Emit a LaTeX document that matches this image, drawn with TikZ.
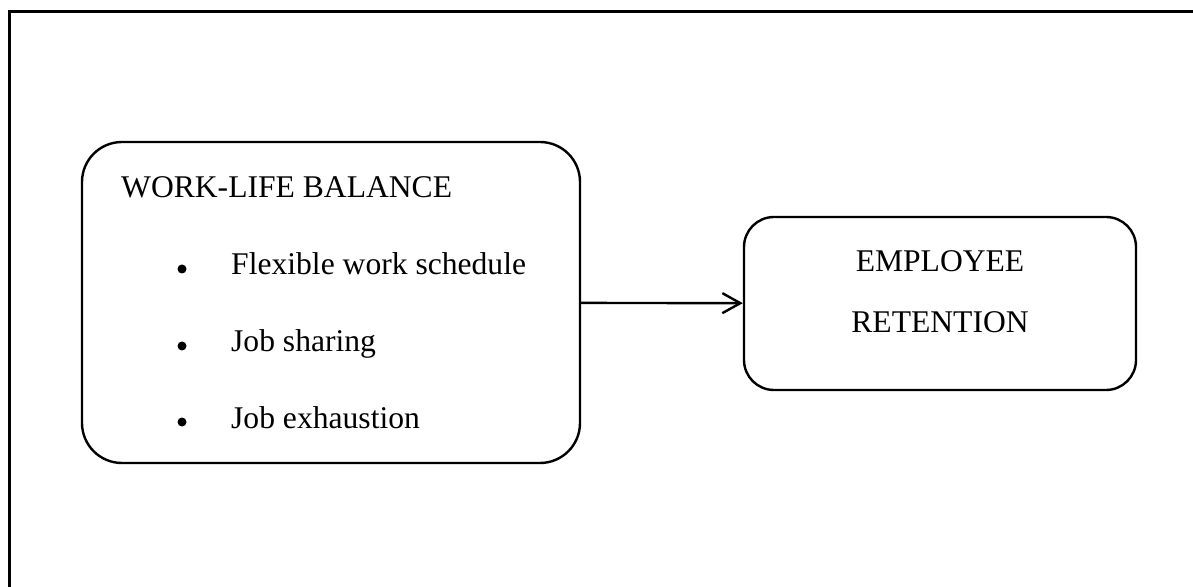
\documentclass[tikz,border=0pt]{standalone}
\usepackage{fontspec}
\setmainfont{Liberation Serif}
\usetikzlibrary{arrows.meta}
\begin{document}
\begin{tikzpicture}[x=0.5pt, y=-0.5pt, line width=1.2pt,
  roundbox/.style={draw, rounded corners=#1, inner sep=0pt},
  txt/.style={anchor=base west, inner sep=0pt, font=\fontsize{15.8}{19}\selectfont},
  dot/.style={circle, fill, inner sep=0pt, minimum size=4.5pt}]
\useasboundingbox (0,0) rectangle (1193,587);
\coordinate (frametl) at (9.5,11.5);
\coordinate (frametr) at (1193,11.5);
\coordinate (framebl) at (9.5,587);
\draw[line width=1.3pt](framebl) -- (frametl) -- (frametr);
\node[roundbox=20pt, minimum width=249pt, minimum height=160.5pt] (wlb) at (331,302.5){};
\node[roundbox=15pt, minimum width=196pt, minimum height=86.5pt] (ret) at (940,303.5){};
\node[txt] (wlbtitle) at (120,198){WORK-LIFE BALANCE};
\node[dot] (dot1) at (182,269){};
\node[txt] (item1) at (230,275){Flexible work schedule};
\node[dot] (dot2) at (182,346){};
\node[txt] (item2) at (230,352){Job sharing};
\node[dot] (dot3) at (182,422){};
\node[txt] (item3) at (230,428){Job exhaustion};
\node[txt, anchor=base] (emp) at (940,272){EMPLOYEE};
\node[txt, anchor=base] (retn) at (940,333){RETENTION};
\draw[-{Straight Barb[length=9pt, width=10pt]}](wlb) -- (ret);

\end{tikzpicture}
\end{document}
